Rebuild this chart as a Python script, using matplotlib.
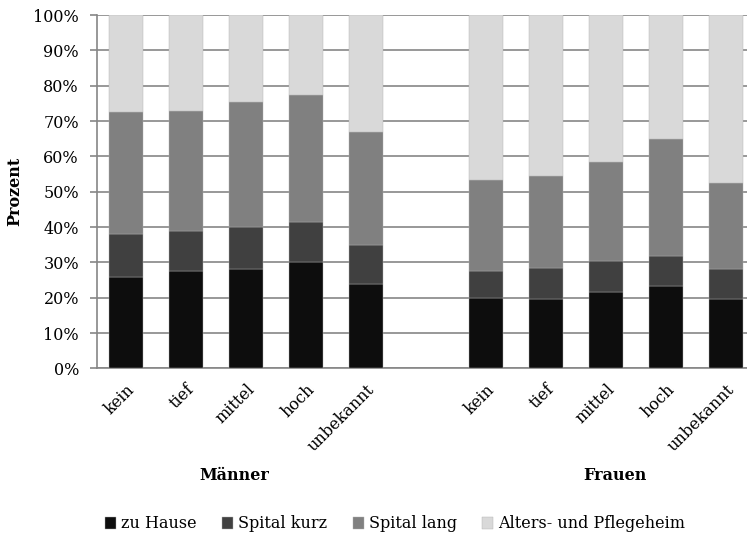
import matplotlib
matplotlib.use("Agg")
import matplotlib.pyplot as plt
import numpy as np

categories = ["kein", "tief", "mittel", "hoch", "unbekannt", "",
              "kein", "tief", "mittel", "hoch", "unbekannt"]
zu_hause     = [25.9, 27.6, 28.0, 30.1, 24.0, 0, 20.0, 19.7, 21.7, 23.4, 19.6]
spital_kurz  = [12.2, 11.4, 12.1, 11.4, 10.8, 0, 7.6, 8.7, 8.8, 8.5, 8.5]
spital_lang  = [34.5, 33.8, 35.2, 35.9, 32.2, 0, 25.6, 26.0, 27.9, 33.1, 24.4]
pflegeheim   = [27.4, 27.2, 24.7, 22.6, 33.0, 0, 46.8, 45.6, 41.6, 35.0, 47.5]
series_names = ["zu Hause", "Spital kurz", "Spital lang", "Alters- und Pflegeheim"]
colors = ["#0d0d0d", "#404040", "#808080", "#d9d9d9"]
groups = ["Männer", "Frauen"]

plt.rcParams['font.family'] = ['DejaVu Serif', 'Liberation Serif']

W, H = 747, 535
fig = plt.figure(figsize=(W/100, H/100), dpi=100)
ax = fig.add_axes([97/W, 1-368.4/H, (747-97)/W, (368.4-15)/H])

x = np.arange(len(categories))
mask = np.array([c != "" for c in categories])
bottom = np.zeros(len(categories))
for name, vals, col in zip(series_names, [zu_hause, spital_kurz, spital_lang, pflegeheim], colors):
    v = np.array(vals, dtype=float)
    ax.bar(x[mask], v[mask], 0.57, bottom=bottom[mask], color=col, label=name,
           edgecolor="#b0b0b0", linewidth=0.3, zorder=3)
    bottom += v

ax.set_ylim(0, 100)
ax.set_xlim(-0.483, 10.35)
ax.set_yticks(np.arange(0, 101, 10))
ax.set_yticklabels([f"{t}%" for t in range(0, 101, 10)], fontsize=11.5)
ax.yaxis.grid(True, color="#868686", linewidth=1.2, zorder=0)
ax.set_axisbelow(True)
ax.set_xticks(x[mask])
ax.set_xticklabels([c for c in categories if c], rotation=45, ha="right",
                   rotation_mode="anchor", fontsize=11.5)
ax.tick_params(axis="x", length=0, pad=9)
ax.tick_params(axis="y", length=5, color="#868686", width=1.2, pad=8)
for s in ["top", "right"]:
    ax.spines[s].set_visible(False)
for s in ["left", "bottom"]:
    ax.spines[s].set_color("#868686")
    ax.spines[s].set_linewidth(1.2)

ax.set_ylabel("Prozent", fontsize=11.5, fontweight="bold", labelpad=7)

fig.text(234/W, 1-476/H, groups[0], ha="center", va="center", fontsize=11.5, fontweight="bold")
fig.text(615/W, 1-476/H, groups[1], ha="center", va="center", fontsize=11.5, fontweight="bold")

fig.legend(loc="center", bbox_to_anchor=(395/W, 1-524/H), ncol=4, frameon=False,
           fontsize=11.5, handlelength=0.7, handleheight=0.7, handletextpad=0.3,
           columnspacing=1.6)

fig.savefig("out.png", dpi=100)
